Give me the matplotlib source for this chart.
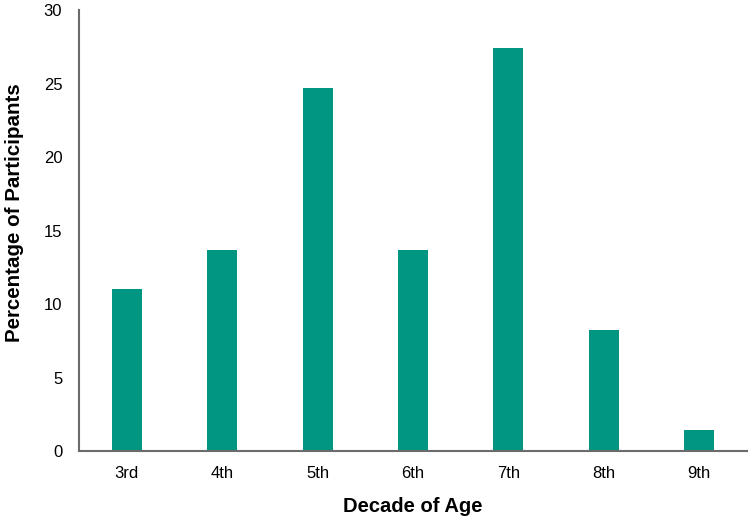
import matplotlib
matplotlib.use("Agg")
import matplotlib.pyplot as plt

# data
decades = ["3rd", "4th", "5th", "6th", "7th", "8th", "9th"]
percentages = [11.0, 13.7, 24.7, 13.7, 27.4, 8.2, 1.4]

plt.rcParams['font.family'] = ['Liberation Sans', 'DejaVu Sans']

fig = plt.figure(figsize=(7.52, 5.2), dpi=100)
ax = fig.add_axes([0.105, 0.1327, 0.8884, 0.848])

x = range(len(decades))
ax.bar(x, percentages, width=0.315, color="#009681")

ax.set_xlim(-0.5, len(decades) - 0.5)
ax.set_ylim(0, 30)
ax.set_yticks([0, 5, 10, 15, 20, 25, 30])
ax.set_xticks(list(x))
ax.set_xticklabels(decades)

# axis styling
for side in ["top", "right"]:
    ax.spines[side].set_visible(False)
for side in ["left", "bottom"]:
    ax.spines[side].set_color("#6b6b6b")
    ax.spines[side].set_linewidth(1.5)
ax.tick_params(axis="both", length=0, labelsize=12, colors="black")
ax.tick_params(axis="x", pad=11)
ax.tick_params(axis="y", pad=12)

ax.set_xlabel("Decade of Age", fontsize=14.5, fontweight="bold", labelpad=11)
ax.set_ylabel("Percentage of Participants", fontsize=14.8, fontweight="bold", labelpad=14, y=0.54)

fig.savefig("out.png", dpi=100)
